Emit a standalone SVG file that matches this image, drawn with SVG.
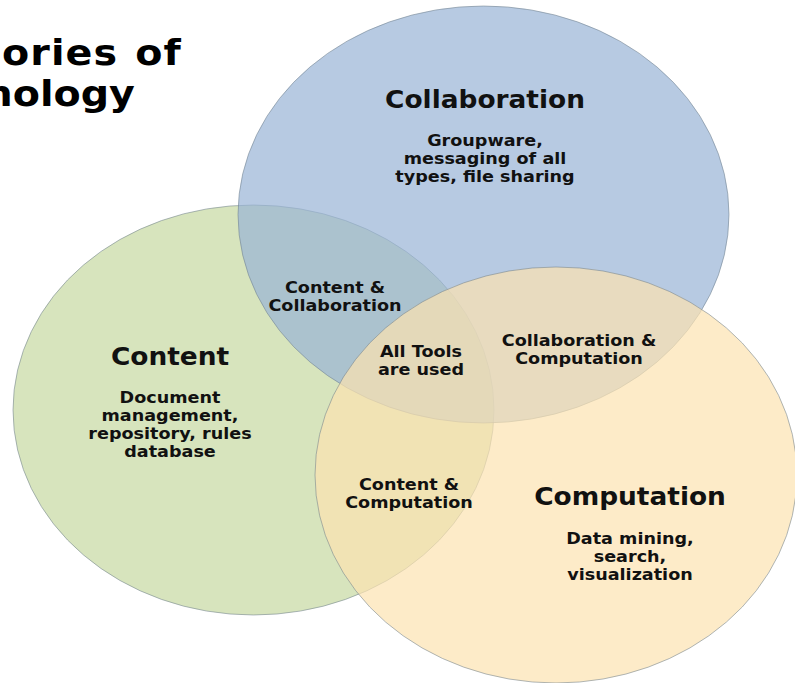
<svg xmlns="http://www.w3.org/2000/svg" width="795" height="683" viewBox="0 0 795 683">
  <style>
    text { font-family: "DejaVu Sans", Verdana, sans-serif; font-weight: bold; fill: #111; text-anchor: middle; }
    .title { font-size: 36px; text-anchor: start; fill: #000; }
    .head { font-size: 24px; }
    .body { font-size: 16px; }
    .set { stroke: #6f7f8c; stroke-opacity: 0.55; stroke-width: 1; }
    .content { fill: #d7e4bd; }
    .collab { fill: #98b3d6; fill-opacity: 0.7; }
    .comp { fill: #fce2b0; fill-opacity: 0.7; }
  </style>

  <rect width="795" height="683" fill="#ffffff"/>

  <!-- heading, cut at the left edge -->
  <g id="heading" transform="scale(1.1 1)">
    <text class="title" x="1.8" y="65" letter-spacing="1" word-spacing="2">ories of</text>
    <text class="title" x="-14" y="106">nology</text>
  </g>

  <!-- Content set -->
  <g id="content">
    <ellipse class="set content" cx="253.5" cy="410" rx="240.5" ry="205"/>
    <g transform="translate(170 0) scale(1.1 1)">
      <text class="head" x="0" y="365">Content</text>
      <text class="body" x="0" y="403">Document</text>
      <text class="body" x="0" y="421">management,</text>
      <text class="body" x="0" y="439">repository, rules</text>
      <text class="body" x="0" y="457">database</text>
    </g>
  </g>

  <!-- Collaboration set -->
  <g id="collaboration">
    <ellipse class="set collab" cx="483.5" cy="214.5" rx="245.5" ry="208.5"/>
    <g transform="translate(485 0) scale(1.1 1)">
      <text class="head" x="0" y="108">Collaboration</text>
      <text class="body" x="0" y="146">Groupware,</text>
      <text class="body" x="0" y="164">messaging of all</text>
      <text class="body" x="0" y="182">types, file sharing</text>
    </g>
  </g>

  <!-- Computation set -->
  <g id="computation">
    <ellipse class="set comp" cx="556" cy="475" rx="241" ry="208"/>
    <g transform="translate(630 0) scale(1.1 1)">
      <text class="head" x="0" y="505">Computation</text>
      <text class="body" x="0" y="544">Data mining,</text>
      <text class="body" x="0" y="562">search,</text>
      <text class="body" x="0" y="580">visualization</text>
    </g>
  </g>

  <!-- overlap labels -->
  <g id="content-collaboration" transform="translate(335 0) scale(1.1 1)">
    <text class="body" x="0" y="293">Content &amp;</text>
    <text class="body" x="0" y="311">Collaboration</text>
  </g>
  <g id="all-tools" transform="translate(421 0) scale(1.1 1)">
    <text class="body" x="0" y="357">All Tools</text>
    <text class="body" x="0" y="375">are used</text>
  </g>
  <g id="collaboration-computation" transform="translate(579 0) scale(1.1 1)">
    <text class="body" x="0" y="346">Collaboration &amp;</text>
    <text class="body" x="0" y="364">Computation</text>
  </g>
  <g id="content-computation" transform="translate(409 0) scale(1.1 1)">
    <text class="body" x="0" y="490">Content &amp;</text>
    <text class="body" x="0" y="508">Computation</text>
  </g>
</svg>
